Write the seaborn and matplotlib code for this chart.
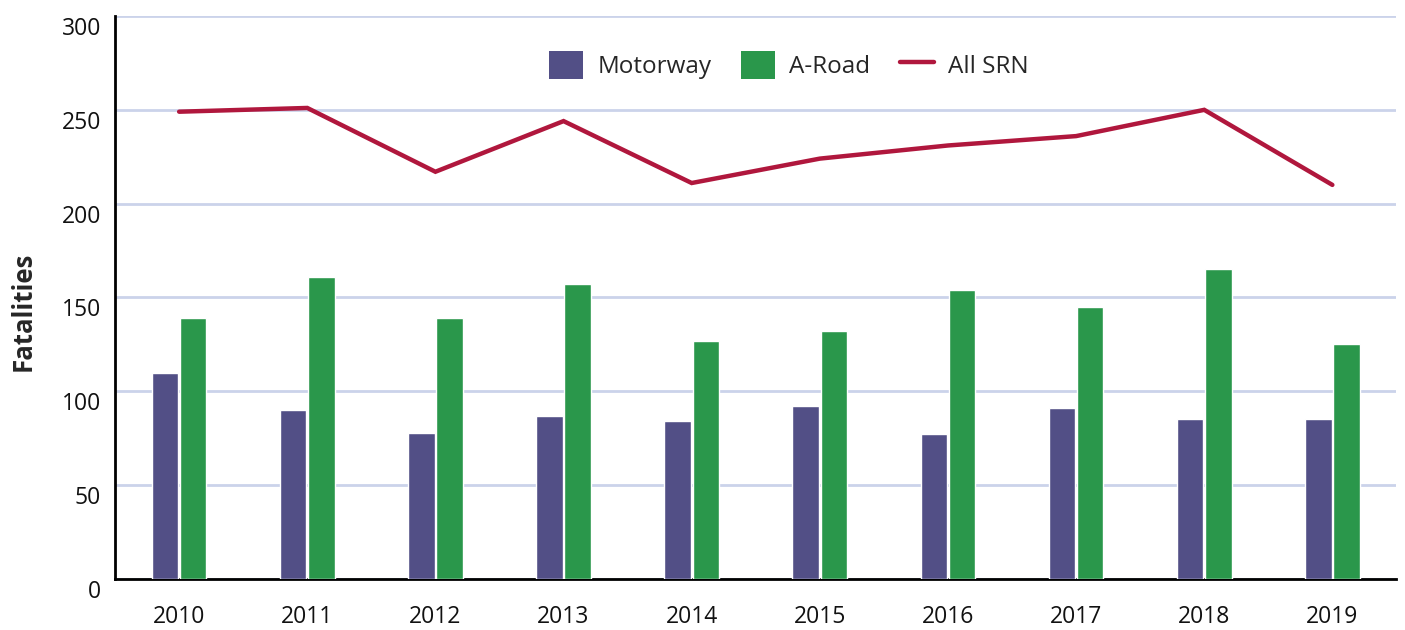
import numpy as np
import pandas as pd
import seaborn as sns
import matplotlib
matplotlib.use("Agg")
import matplotlib.pyplot as plt
from matplotlib.patches import Patch
from matplotlib.lines import Line2D
from matplotlib.transforms import ScaledTranslation

years = ["2010", "2011", "2012", "2013", "2014", "2015", "2016", "2017", "2018", "2019"]
motorway = [110, 90, 78, 87, 84, 92, 77, 91, 85, 85]
a_road = [139, 161, 139, 157, 127, 132, 154, 145, 165, 125]
all_srn = [249, 251, 217, 244, 211, 224, 231, 236, 250, 210]
y_ticks = [0, 50, 100, 150, 200, 250, 300]

c_mway = "#524F86"
c_aroad = "#2A974B"
c_srn = "#B0173D"
c_grid = "#CBD3EA"

sns.set_theme(style="white")
plt.rcParams["font.family"] = ["Open Sans", "DejaVu Sans"]

df = pd.DataFrame({
    "Year": years * 2,
    "Fatalities": motorway + a_road,
    "Type": ["Motorway"] * len(years) + ["A-Road"] * len(years),
})

fig = plt.figure(figsize=(14.05, 6.3), dpi=100)
ax = fig.add_axes([0.0819, 0.081, 0.912, 0.8936])

sns.barplot(data=df, x="Year", y="Fatalities", hue="Type",
            palette={"Motorway": c_mway, "A-Road": c_aroad},
            width=0.44, gap=0.06, saturation=1, ax=ax, legend=False,
            zorder=3)
sns.lineplot(x=np.arange(len(years)), y=all_srn, color=c_srn, linewidth=3.2,
             ax=ax, zorder=4, solid_capstyle="round", solid_joinstyle="miter")

ax.set_ylim(0, 300)
ax.set_xlim(-0.5, len(years) - 0.5)
ax.set_yticks(y_ticks)
ax.set_yticklabels([str(v) for v in y_ticks])
ax.yaxis.grid(True, color=c_grid, linewidth=2)
ax.set_axisbelow(True)
ax.tick_params(axis="both", length=0, labelsize=16.5, colors="#111111")
ax.tick_params(axis="y", pad=10)
ax.tick_params(axis="x", pad=19)
ax.set_xlabel("")
ax.set_ylabel("Fatalities", fontsize=18.5, fontweight="bold")
ax.yaxis.set_label_coords(-0.0616, 0.476)

shift = ScaledTranslation(0, -10 / 100, fig.dpi_scale_trans)
for lab in ax.get_yticklabels():
    lab.set_transform(lab.get_transform() + shift)

for s in ["top", "right"]:
    ax.spines[s].set_visible(False)
for s in ["left", "bottom"]:
    ax.spines[s].set_color("#000000")
    ax.spines[s].set_linewidth(2)

handles = [
    Patch(facecolor=c_mway, edgecolor="none", label="Motorway"),
    Patch(facecolor=c_aroad, edgecolor="none", label="A-Road"),
    Line2D([0], [0], color=c_srn, linewidth=3.2, solid_capstyle="round", label="All SRN"),
]
ax.legend(handles=handles, loc="center", bbox_to_anchor=(0.526, 0.913), ncol=3,
          frameon=False, fontsize=17.5, handlelength=1.4, handleheight=1.4,
          columnspacing=1.2, handletextpad=0.6)

fig.savefig("out.png", dpi=100)
